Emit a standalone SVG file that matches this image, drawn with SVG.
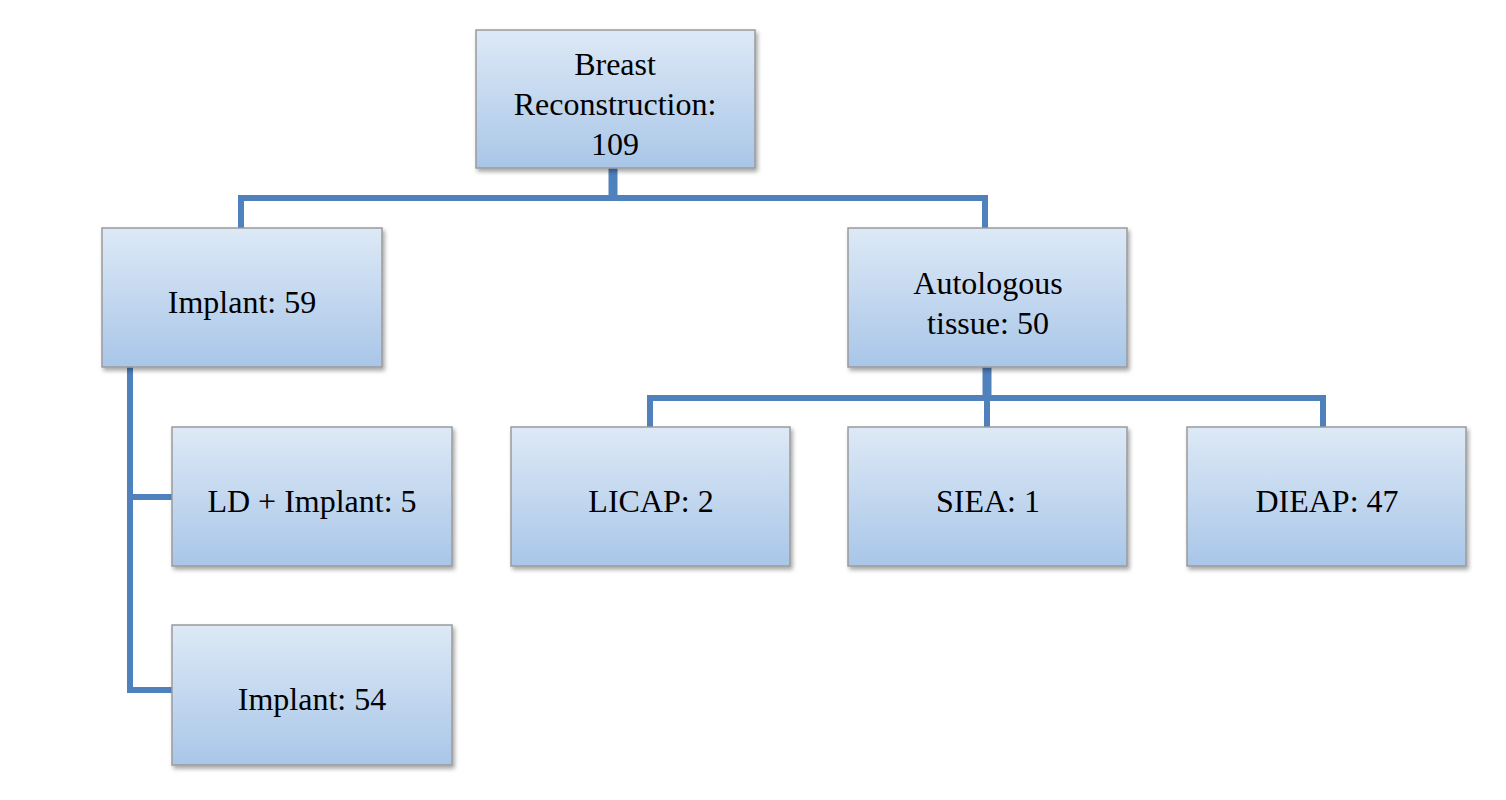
<svg xmlns="http://www.w3.org/2000/svg" width="1506" height="800" viewBox="0 0 1506 800">
<style>
.box{fill:url(#g);stroke:#9a9a9a;stroke-width:1.5;filter:url(#sh)}
.t{font-family:"Liberation Serif",serif;font-size:32px;fill:#000;text-anchor:middle}
.c{fill:none;stroke:#4f81bd;stroke-width:6}
</style>
<defs>
<linearGradient id="g" x1="0" y1="0" x2="0" y2="1"><stop offset="0" stop-color="#dde9f6"/><stop offset="1" stop-color="#a9c6e8"/></linearGradient>
<filter id="sh" x="-5%" y="-5%" width="115%" height="120%"><feDropShadow dx="2" dy="3" stdDeviation="2" flood-color="#000" flood-opacity="0.35"/></filter>
</defs>
<rect width="1506" height="800" fill="#fff"/>
<g id="connectors">
<path class="c" d="M613 168V198"  style="stroke-width:9"/>
<path class="c" d="M241 228V198H985V228"/>
<path class="c" d="M987 367V398" style="stroke-width:9"/>
<path class="c" d="M650 427V398H1323V427M987 398V427"/>
<path class="c" d="M130 367V690H172M130 497H172"/>
</g>
<g id="root"><rect class="box" x="476" y="30" width="279" height="138"/><text class="t" x="615" y="75">Breast</text><text class="t" x="615" y="115">Reconstruction:</text><text class="t" x="615" y="155">109</text></g>
<g id="implant59"><rect class="box" x="102" y="228" width="280" height="139"/><text class="t" x="242" y="313">Implant: 59</text></g>
<g id="autologous"><rect class="box" x="848" y="228" width="279" height="139"/><text class="t" x="988" y="294">Autologous</text><text class="t" x="988" y="334">tissue: 50</text></g>
<g id="ld"><rect class="box" x="172" y="427" width="280" height="139"/><text class="t" x="312" y="512">LD + Implant: 5</text></g>
<g id="implant54"><rect class="box" x="172" y="625" width="280" height="140"/><text class="t" x="312" y="710">Implant: 54</text></g>
<g id="licap"><rect class="box" x="511" y="427" width="279" height="139"/><text class="t" x="651" y="512">LICAP: 2</text></g>
<g id="siea"><rect class="box" x="848" y="427" width="279" height="139"/><text class="t" x="988" y="512">SIEA: 1</text></g>
<g id="dieap"><rect class="box" x="1187" y="427" width="279" height="139"/><text class="t" x="1327" y="512">DIEAP: 47</text></g>
</svg>
